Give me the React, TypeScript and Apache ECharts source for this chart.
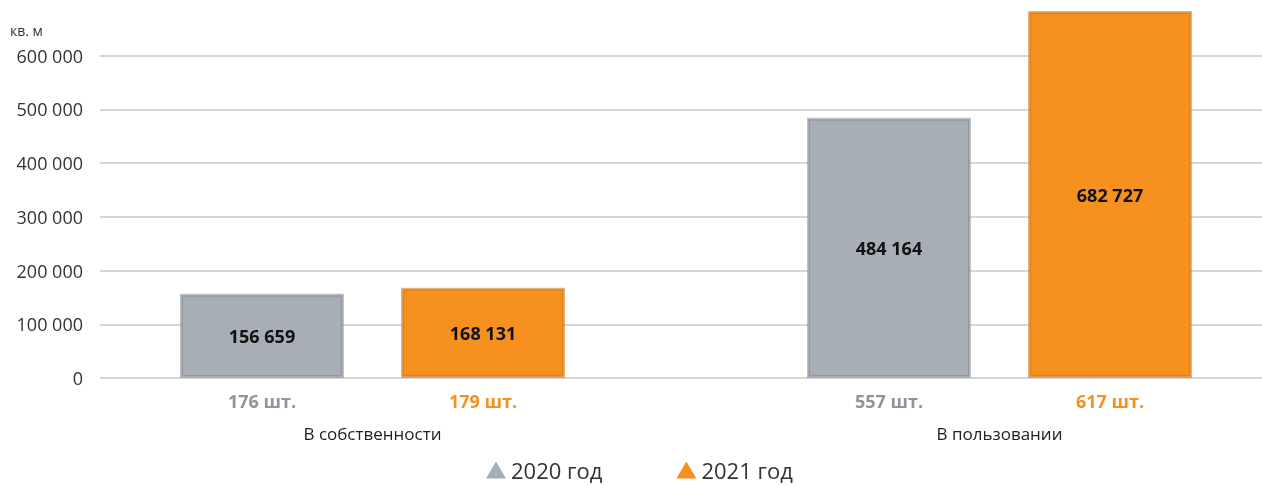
import React, { useEffect, useRef } from "react";
import * as echarts from "echarts";

const categories = ["В собственности", "В пользовании"];
const seriesNames = ["2020 год", "2021 год"];
const values2020 = [156659, 484164];
const values2021 = [168131, 682727];
const counts2020 = [176, 557];
const counts2021 = [179, 617];
const yTicks = [0, 100000, 200000, 300000, 400000, 500000, 600000];
const unitLabel = "кв. м";

const GRAY = "#a7aeb5";
const ORANGE = "#f6901f";
const FONT = "'Open Sans', 'Noto Sans', sans-serif";

const fmt = (v: number) => String(v).replace(/\B(?=(\d{3})+(?!\d))/g, " ");

export default function App() {
  const ref = useRef<HTMLDivElement>(null);
  useEffect(() => {
    if (!ref.current) return;
    const chart = echarts.init(ref.current, undefined, { renderer: "svg" });
    const yMax = yTicks[yTicks.length - 1];
    const interval = yTicks[1] - yTicks[0];
    const labels = categories.map(
      (c, i) => `{a|${counts2020[i]} шт.}{b|${counts2021[i]} шт.}\n{c|${c}}`
    );
    const barLabel = {
      show: true,
      position: "inside",
      formatter: (p: any) => fmt(p.value),
      color: "#111",
      fontWeight: "bold",
      fontSize: 18,
      fontFamily: FONT,
    };
    chart.setOption({
      animation: false,
      grid: [
        { left: 100, right: 0, top: 55.5, bottom: 108 },
        { left: 372.5, right: 262.5, top: 55.5, bottom: 108 },
      ],
      xAxis: [
        { gridIndex: 0, type: "category", data: [""], show: false },
        {
          gridIndex: 1,
          type: "category",
          boundaryGap: false,
          data: categories,
          axisLine: { show: false },
          axisTick: { show: false },
          axisLabel: {
            interval: 0,
            margin: 7,
            formatter: (_v: string, i: number) => labels[i],
            rich: {
              a: { width: 221, align: "center", color: "#8e959c", fontWeight: "bold", fontSize: 18, lineHeight: 32, fontFamily: FONT },
              b: { width: 221, align: "center", color: "#f3921f", fontWeight: "bold", fontSize: 18, lineHeight: 32, fontFamily: FONT },
              c: { color: "#222", fontSize: 17, lineHeight: 32, fontFamily: FONT },
            },
          },
        },
      ],
      yAxis: [
        {
          gridIndex: 0,
          type: "value",
          min: 0,
          max: yMax,
          interval,
          axisLine: { show: false },
          axisTick: { show: false },
          axisLabel: { margin: 17, color: "#333", fontSize: 18, fontFamily: FONT, formatter: (v: number) => fmt(v) },
          splitLine: { lineStyle: { color: "#c9c9c9", width: 1.5 } },
        },
        { gridIndex: 1, type: "value", min: 0, max: yMax, interval, show: false, splitLine: { show: false } },
      ],
      legend: {
        left: 486,
        top: 459,
        padding: 0,
        icon: "triangle",
        itemWidth: 20,
        itemHeight: 17,
        itemGap: 74,
        textStyle: { fontSize: 22, color: "#333", fontFamily: FONT },
        itemStyle: { borderWidth: 0 },
        data: seriesNames,
      },
      graphic: [
        { type: "text", left: 10, top: 23, style: { text: unitLabel, fontSize: 14, fill: "#333", fontFamily: FONT } },
      ],
      series: [
        {
          name: seriesNames[0],
          type: "bar",
          xAxisIndex: 1,
          yAxisIndex: 1,
          data: values2020,
          barWidth: 164,
          barGap: "34.8%",
          clip: false,
          itemStyle: { color: GRAY, borderColor: "rgba(125,133,142,0.5)", borderWidth: 3 },
          label: barLabel,
        },
        {
          name: seriesNames[1],
          type: "bar",
          xAxisIndex: 1,
          yAxisIndex: 1,
          data: values2021,
          barWidth: 164,
          barGap: "34.8%",
          clip: false,
          itemStyle: { color: ORANGE, borderColor: "rgba(205,118,22,0.55)", borderWidth: 3 },
          label: barLabel,
        },
      ],
    });
    return () => chart.dispose();
  }, []);
  return <div ref={ref} style={{ position: "fixed", left: 0, top: 0, width: 1262, height: 486 }} />;
}
